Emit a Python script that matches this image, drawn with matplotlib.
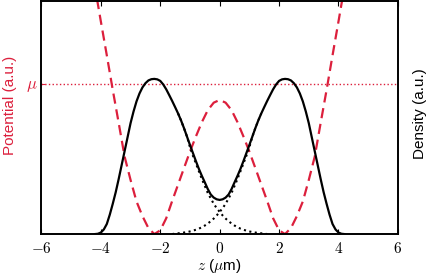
import numpy as np
import matplotlib
matplotlib.use("Agg")
import matplotlib.pyplot as plt

plt.rcParams["font.family"] = ["Liberation Sans", "DejaVu Sans"]
plt.rcParams["mathtext.fontset"] = "cm"

RED = "#dc1f3c"

# sample grid (um)
z_dens = np.round(np.arange(-42, 43) / 10.0, 1)
z_pot = np.round(np.arange(-22, 23) / 5.0, 1)
z_left = np.round(np.arange(-14, 17) / 10.0, 1)
z_right = np.round(np.arange(-16, 15) / 10.0, 1)

# total density (peak = 1)
density = [
    0.0, 0.002, 0.01, 0.03, 0.065, 0.125, 0.195, 0.27, 0.355, 0.445,
    0.535, 0.625, 0.715, 0.79, 0.855, 0.906, 0.945, 0.972, 0.99, 0.998,
    1.0, 0.997, 0.987, 0.964, 0.933, 0.896, 0.858, 0.818, 0.777, 0.732,
    0.682, 0.628, 0.574, 0.522, 0.47, 0.42, 0.375, 0.333, 0.29, 0.255,
    0.235, 0.224, 0.22,
    0.224, 0.235, 0.255, 0.29, 0.333, 0.375, 0.42, 0.47, 0.522, 0.574,
    0.628, 0.682, 0.732, 0.777, 0.818, 0.858, 0.896, 0.933, 0.964, 0.987,
    0.997, 1.0, 0.998, 0.99, 0.972, 0.945, 0.906, 0.855, 0.79, 0.715,
    0.625, 0.535, 0.445, 0.355, 0.27, 0.195, 0.125, 0.065, 0.03, 0.01,
    0.002, 0.0,
]

# single-well components near the centre
left_comp = [
    0.777, 0.732, 0.682, 0.628, 0.56, 0.505, 0.455, 0.405, 0.355, 0.31,
    0.265, 0.23, 0.195, 0.167, 0.143, 0.12, 0.1, 0.083, 0.068, 0.055,
    0.044, 0.035, 0.028, 0.022, 0.017, 0.013, 0.01, 0.007, 0.005, 0.003,
    0.0,
]
right_comp = [
    0.0, 0.003, 0.005, 0.007, 0.01, 0.013, 0.017, 0.022, 0.028, 0.035,
    0.044, 0.055, 0.068, 0.083, 0.1, 0.12, 0.143, 0.167, 0.195, 0.23,
    0.265, 0.31, 0.355, 0.405, 0.455, 0.505, 0.56, 0.628, 0.682, 0.732,
    0.777,
]

# double-well potential (mu = 1)
potential = [
    1.80, 1.645, 1.415, 1.19, 0.96, 0.74, 0.515, 0.36, 0.217, 0.12,
    0.04, 0.0, 0.025, 0.105, 0.22, 0.33, 0.44, 0.549, 0.65, 0.745,
    0.825, 0.875, 0.893,
    0.875, 0.825, 0.745, 0.65, 0.549, 0.44, 0.33, 0.22, 0.105, 0.025,
    0.0, 0.04, 0.12, 0.217, 0.36, 0.515, 0.74, 0.96, 1.19, 1.415,
    1.645, 1.80,
]
mu = 1.0
xticks = [-6, -4, -2, 0, 2, 4, 6]

fig = plt.figure(figsize=(4.32, 2.78), dpi=100)
ax = fig.add_axes([0.096, 0.158, 0.825, 0.839])
ax2 = ax.twinx()

ax.plot(z_pot, potential, color=RED, lw=1.6, dashes=(4.6, 2.6))
ax.axhline(mu, color=RED, lw=1.0, ls=":")
ax.set_xlim(-6, 6)
ax.set_ylim(0, 1.553)
ax.set_yticks([mu])
ax.set_yticklabels([r"$\mu$"], color=RED, fontsize=12)
ax.tick_params(axis="y", direction="in", length=3, color=RED, pad=3)
ax.set_xticks(xticks)
ax.set_xticklabels([f"${t}$" for t in xticks], fontsize=11)
ax.tick_params(axis="x", direction="in", length=3.5, top=True, pad=5)
ax.set_xlabel(r"$z$ ($\mu$m)", fontsize=11, labelpad=1)
ax.set_ylabel("Potential (a.u.)", color=RED, fontsize=11)
ax.yaxis.set_label_coords(-0.069, 0.55)

ax2.plot(z_left, left_comp, color="black", lw=1.5, ls=":", zorder=1)
ax2.plot(z_right, right_comp, color="black", lw=1.5, ls=":", zorder=1)
ax2.plot(z_dens, density, color="black", lw=1.6, zorder=2)
ax2.set_ylim(0, 1.503)
ax2.set_yticks([])
ax2.set_ylabel("Density (a.u.)", fontsize=11)
ax2.yaxis.set_label_coords(1.042, 0.515)

for a in (ax, ax2):
    for s in a.spines.values():
        s.set_linewidth(1.2)

fig.savefig("out.png", dpi=100)
